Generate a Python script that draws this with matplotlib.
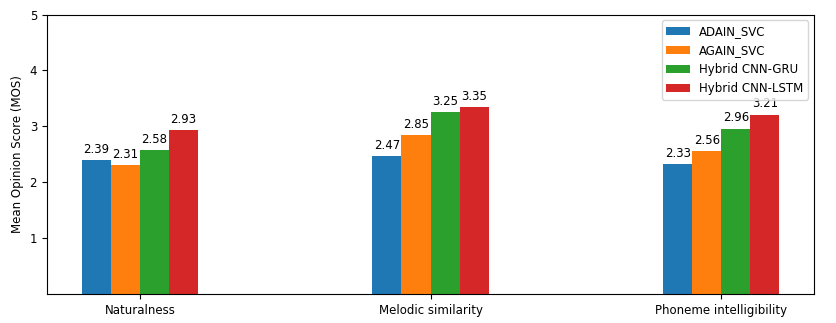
import numpy as np
from matplotlib import pyplot as plt

categories = ['Naturalness', 'Melodic similarity', 'Phoneme intelligibility']
models = ['ADAIN_SVC', 'AGAIN_SVC', 'Hybrid CNN-GRU', 'Hybrid CNN-LSTM']
adain = [2.39, 2.47, 2.33]
again = [2.31, 2.85, 2.56]
gru = [2.58, 3.25, 2.96]
lstm = [2.93, 3.35, 3.21]

plt.rcParams['font.size'] = 8.5

scores = [adain, again, gru, lstm]
x = np.arange(len(categories))
width = 0.1

fig, ax = plt.subplots(figsize=(8.36, 3.23), dpi=100)
for i, (name, vals) in enumerate(zip(models, scores)):
    bars = ax.bar(x + (i - 1.5) * width, vals, width, label=name)
    ax.bar_label(bars, padding=3)

ax.set_ylabel('Mean Opinion Score (MOS)')
ax.set_xticks(x)
ax.set_xticklabels(categories)
ax.set_ylim(0, 5)
ax.set_yticks([1, 2, 3, 4, 5])
ax.legend(loc='upper right')
fig.subplots_adjust(left=0.056, right=0.974, top=0.955, bottom=0.09)
fig.savefig('out.png')
